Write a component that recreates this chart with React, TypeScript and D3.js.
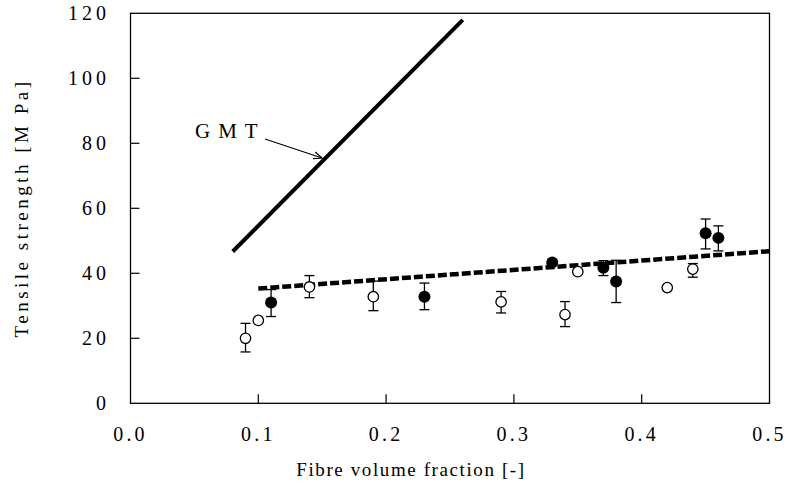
import React from "react";
import * as d3 from "d3";

const xTicks = [0.0, 0.1, 0.2, 0.3, 0.4, 0.5];
const yTicks = [0, 20, 40, 60, 80, 100, 120];

// open circles with optional error bars (null = no bar)
const openX = [0.09, 0.1, 0.14, 0.19, 0.29, 0.34, 0.35, 0.42, 0.44];
const openY = [20, 25.5, 35.8, 32.8, 31.2, 27.3, 40.5, 35.6, 41.3];
const openLo = [15.8, null, 32.5, 28.5, 27.8, 23.6, null, null, 38.8];
const openHi = [24.6, null, 39.3, 37.6, 34.4, 31.3, null, null, 43.0];

// filled circles with optional error bars
const fillX = [0.11, 0.23, 0.33, 0.37, 0.38, 0.45, 0.46];
const fillY = [31, 32.8, 43.3, 41.7, 37.5, 52.3, 50.9];
const fillLo = [26.7, 28.8, null, 39.3, 31.0, 47.5, 46.9];
const fillHi = [35.0, 37.0, null, 43.9, 44.0, 56.7, 54.6];

const gmtX = [0.08, 0.26];
const gmtY = [46.7, 118];

const fitX = [0.1, 0.5];
const fitY = [35.3, 46.8];

const W = 787;
const H = 485;
const left = 130.5;
const right = 769.5;
const top = 13.3;
const bottom = 403.3;

const FONT = "'Liberation Serif', 'Times New Roman', serif";

export default function App() {
  const x = d3.scaleLinear().domain([0, 0.5]).range([left, right]);
  const y = d3.scaleLinear().domain([0, 120]).range([bottom, top]);
  const line = d3
    .line<[number, number]>()
    .x((d) => x(d[0]))
    .y((d) => y(d[1]));

  const gmtPts: [number, number][] = gmtX.map((v, i) => [v, gmtY[i]]);
  const fitPts: [number, number][] = fitX.map((v, i) => [v, fitY[i]]);

  const errBar = (
    xv: number,
    lo: number | null,
    hi: number | null,
    key: string
  ) => {
    if (lo == null || hi == null) return null;
    const cx = x(xv);
    return (
      <g key={key} stroke="#000" strokeWidth={1.3}>
        <line x1={cx} x2={cx} y1={y(lo)} y2={y(hi)} />
        <line x1={cx - 5} x2={cx + 5} y1={y(lo)} y2={y(lo)} />
        <line x1={cx - 5} x2={cx + 5} y1={y(hi)} y2={y(hi)} />
      </g>
    );
  };

  // arrow geometry for GMT label
  const ax1 = 265,
    ay1 = 139,
    ax2 = 322,
    ay2 = 158;
  const ang = Math.atan2(ay2 - ay1, ax2 - ax1);
  const ah = 9;
  const a1x = ax2 - ah * Math.cos(ang - 0.4);
  const a1y = ay2 - ah * Math.sin(ang - 0.4);
  const a2x = ax2 - ah * Math.cos(ang + 0.4);
  const a2y = ay2 - ah * Math.sin(ang + 0.4);

  return (
    <svg
      width={W}
      height={H}
      style={{ position: "absolute", left: 0, top: 0, background: "#fff" }}
      fontFamily={FONT}
    >
      <rect x={0} y={0} width={W} height={H} fill="#fff" />
      {/* frame */}
      <rect
        x={left}
        y={top}
        width={right - left}
        height={bottom - top}
        fill="none"
        stroke="#000"
        strokeWidth={1.3}
      />
      {/* y ticks */}
      {yTicks.map((t) => (
        <g key={"y" + t}>
          {t > 0 && t < 120 && (
            <line
              x1={left}
              x2={left + 9}
              y1={y(t)}
              y2={y(t)}
              stroke="#000"
              strokeWidth={1.2}
            />
          )}
          <text
            x={110}
            y={y(t) + 7}
            textAnchor="end"
            fontSize={20}
            letterSpacing={4}
            fill="#000"
          >
            {String(t)}
          </text>
        </g>
      ))}
      {/* x ticks */}
      {xTicks.map((t) => (
        <g key={"x" + t}>
          {t > 0 && t < 0.5 && (
            <line
              x1={x(t)}
              x2={x(t)}
              y1={bottom}
              y2={bottom - 9}
              stroke="#000"
              strokeWidth={1.2}
            />
          )}
          <text
            x={x(t)}
            y={441}
            textAnchor="middle"
            fontSize={20}
            letterSpacing={3.2}
            fill="#000"
          >
            {t.toFixed(1)}
          </text>
        </g>
      ))}
      {/* axis titles */}
      <text
        x={411}
        y={476}
        textAnchor="middle"
        fontSize={19}
        letterSpacing={1.6}
        fill="#000"
      >
        Fibre volume fraction [-]
      </text>
      <text
        transform={`translate(28,208) rotate(-90)`}
        textAnchor="middle"
        fontSize={19}
        letterSpacing={3.5}
        fill="#000"
      >
        Tensile strength [M Pa]
      </text>

      {/* GMT line */}
      <path d={line(gmtPts) || ""} fill="none" stroke="#000" strokeWidth={4} />
      {/* fit line dashed */}
      <path
        d={line(fitPts) || ""}
        fill="none"
        stroke="#000"
        strokeWidth={4.5}
        strokeDasharray="9,3"
      />

      {/* GMT label + arrow */}
      <text x={195} y={138} fontSize={21} letterSpacing={8} fill="#000">
        GMT
      </text>
      <line x1={ax1} y1={ay1} x2={ax2} y2={ay2} stroke="#000" strokeWidth={1.2} />
      <polyline
        points={`${a1x},${a1y} ${ax2},${ay2} ${a2x},${a2y}`}
        fill="none"
        stroke="#000"
        strokeWidth={1.2}
      />

      {/* error bars */}
      {openX.map((v, i) => errBar(v, openLo[i], openHi[i], "oe" + i))}
      {fillX.map((v, i) => errBar(v, fillLo[i], fillHi[i], "fe" + i))}

      {/* open circles */}
      {openX.map((v, i) => (
        <circle
          key={"o" + i}
          cx={x(v)}
          cy={y(openY[i])}
          r={5.2}
          fill="#fff"
          stroke="#000"
          strokeWidth={1.3}
        />
      ))}
      {/* filled circles */}
      {fillX.map((v, i) => (
        <circle
          key={"f" + i}
          cx={x(v)}
          cy={y(fillY[i])}
          r={6}
          fill="#000"
        />
      ))}
    </svg>
  );
}
